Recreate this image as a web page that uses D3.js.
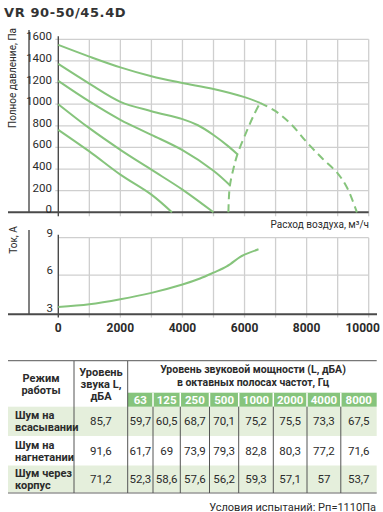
<!DOCTYPE html>
<html><head><meta charset="utf-8">
<script src="https://cdn.jsdelivr.net/npm/d3@7"></script>
<style>
html,body{margin:0;padding:0;background:#fff;}
svg{display:block;}
text{font-family:"Liberation Sans Narrow","Arial Narrow","Roboto",sans-serif;fill:#2b2b2b;}
</style></head>
<body>
<svg id="c" width="383" height="512"></svg>
<script>
// ---------- data ----------
const title = "VR 90-50/45.4D";
const pressureTicks = [0,200,400,600,800,1000,1200,1400,1600];
const currentTicks = [3,6,9];
const flowTicks = [0,2000,4000,6000,8000,10000];
const flowGrid = [0,1000,2000,3000,4000,5000,6000,7000,8000,9000,10000];

const speed1 = [[0,1548],[1000,1440],[2000,1340],[3000,1258],[4000,1196],[5000,1140],[6000,1065],[6500,1012]];
const speed2 = [[0,1372],[1000,1190],[2000,1022],[3000,935],[4000,862],[4500,805],[5000,715],[5500,605],[5770,536]];
const speed3 = [[0,1215],[1000,1025],[2000,855],[3000,717],[4000,575],[5000,385],[5530,250]];
const speed4 = [[0,1000],[1000,778],[2000,578],[3000,394],[4000,210],[5000,0]];
const speed5 = [[0,763],[1000,563],[2000,348],[3000,163],[3660,0]];
const stallLimit = [[5480,0],[5495,130],[5530,250],[5640,400],[5770,536],[6070,750],[6300,900],[6500,1012]];
const maxLimit = [[6500,1012],[7000,935],[7500,815],[8000,650],[8500,500],[9000,360],[9300,230],[9620,0]];
const currentCurve = [[0,3.45],[1000,3.67],[2000,4.07],[3000,4.58],[4000,5.25],[4565,5.73],[5000,6.2],[5425,6.7],[5850,7.45],[6000,7.65],[6450,8.07]];

const freqs = ["63","125","250","500","1000","2000","4000","8000"];
const modes = [["Шум на","всасывании"],["Шум на","нагнетании"],["Шум через","корпус"]];
const totalLevels = ["85,7","91,6","71,2"];
const bandLevels = [
  ["59,7","60,5","68,7","70,1","75,2","75,5","73,3","67,5"],
  ["61,7","69","73,9","79,3","82,8","80,3","77,2","71,6"],
  ["52,3","58,6","57,6","56,2","59,3","57,1","57","53,7"]
];
const note = "Условия испытаний: Рп=1110Па";

// ---------- drawing ----------
const svg = d3.select("#c");
const green = "#86c47c";
const gridC = "#cfcfcf";
const axisC = "#4a4a4a";

const x = d3.scaleLinear().domain([0,10000]).range([58.3,368.7]);
const yP = d3.scaleLinear().domain([0,1600]).range([212.3,39.3]);
const yA = d3.scaleLinear().domain([3,9]).range([312.6,237.7]);

svg.append("text").attr("x",4).attr("y",17)
  .style("font-family","'DejaVu Sans',sans-serif").style("font-weight","bold")
  .style("font-size","13px").style("letter-spacing","0.6px").style("fill","#333")
  .text(title);

// ---- top chart ----
const topG = svg.append("g");
topG.selectAll(".vg").data(flowGrid.slice(1)).join("line")
  .attr("x1",d=>x(d)).attr("x2",d=>x(d)).attr("y1",yP(1600)).attr("y2",yP(0)+4)
  .attr("stroke",gridC).attr("stroke-width",1.3);
topG.selectAll(".hg").data(pressureTicks.slice(1)).join("line")
  .attr("x1",x(0)-3).attr("x2",x(10000)).attr("y1",d=>yP(d)).attr("y2",d=>yP(d))
  .attr("stroke",gridC).attr("stroke-width",1.3);
topG.append("line").attr("x1",29).attr("x2",29).attr("y1",30).attr("y2",yP(0)).attr("stroke",axisC).attr("stroke-width",1.4);
topG.append("line").attr("x1",x(0)).attr("x2",x(0)).attr("y1",yP(1600)-3).attr("y2",yP(0)+4).attr("stroke",axisC).attr("stroke-width",1.4);
topG.append("line").attr("x1",8).attr("x2",x(10000)).attr("y1",yP(0)).attr("y2",yP(0)).attr("stroke",axisC).attr("stroke-width",2);
topG.selectAll(".yl").data(pressureTicks).join("text")
  .attr("x",52).attr("y",d=>yP(d)-3).attr("dy","0.35em").attr("text-anchor","end")
  .style("font-size","11.5px").text(d=>d);
topG.append("text").attr("transform","translate(16,78) rotate(-90)").attr("text-anchor","middle")
  .style("font-family","Roboto,sans-serif").style("font-size","10px").text("Полное давление, Па");
topG.append("text").attr("x",369).attr("y",227.5).attr("text-anchor","end")
  .style("font-family","Roboto,sans-serif").style("font-size","10px").text("Расход воздуха, м³/ч");

const lineP = d3.line().x(d=>x(d[0])).y(d=>yP(d[1])).curve(d3.curveCatmullRom.alpha(0.5));
[speed1,speed2,speed3,speed4,speed5].forEach(s=>{
  topG.append("path").attr("d",lineP(s)).attr("fill","none").attr("stroke",green).attr("stroke-width",2);
});
[stallLimit,maxLimit].forEach(s=>{
  topG.append("path").attr("d",lineP(s)).attr("fill","none").attr("stroke",green)
    .attr("stroke-width",2).attr("stroke-dasharray","8,5");
});

// ---- bottom chart ----
const botG = svg.append("g");
botG.selectAll(".vg").data(flowGrid.slice(1)).join("line")
  .attr("x1",d=>x(d)).attr("x2",d=>x(d)).attr("y1",yA(9)).attr("y2",yA(3)+5)
  .attr("stroke",gridC).attr("stroke-width",1.3);
botG.selectAll(".hg").data([6,9]).join("line")
  .attr("x1",x(0)).attr("x2",x(10000)).attr("y1",d=>yA(d)).attr("y2",d=>yA(d))
  .attr("stroke",gridC).attr("stroke-width",1.3);
botG.append("line").attr("x1",29).attr("x2",29).attr("y1",230).attr("y2",yA(3)+1.7).attr("stroke",axisC).attr("stroke-width",1.4);
botG.append("line").attr("x1",x(0)).attr("x2",x(0)).attr("y1",yA(9)-3).attr("y2",yA(3)+5).attr("stroke",axisC).attr("stroke-width",1.4);
botG.append("line").attr("x1",8).attr("x2",377).attr("y1",yA(3)+1.7).attr("y2",yA(3)+1.7).attr("stroke",axisC).attr("stroke-width",2);
botG.selectAll(".yl").data(currentTicks).join("text")
  .attr("x",53).attr("y",d=>yA(d)-5).attr("dy","0.35em").attr("text-anchor","end")
  .style("font-size","11.5px").text(d=>d);
botG.append("text").attr("transform","translate(17,240) rotate(-90)").attr("text-anchor","middle")
  .style("font-family","Roboto,sans-serif").style("font-size","10px").text("Ток, А");
botG.selectAll(".xl").data(flowTicks).join("text")
  .attr("x",d=>x(d)).attr("dx",d=>d===10000?-6:0).attr("y",331.5).attr("text-anchor","middle")
  .style("font-size","12px").style("font-weight","bold").text(d=>d);
const lineA = d3.line().x(d=>x(d[0])).y(d=>yA(d[1])).curve(d3.curveCatmullRom.alpha(0.5));
botG.append("path").attr("d",lineA(currentCurve)).attr("fill","none").attr("stroke",green).attr("stroke-width",2);

// ---- table ----
const tb = svg.append("g");
const colEdges = [8,74,127.7,153,180.3,209.5,238.7,273.3,307,340.8,376.7];
const rowTop = [406.7,436,465.5];
const rowBot = [436,465.5,493];
const rowBg = ["#e5efdc","#ffffff","#e5efdc"];
modes.forEach((m,i)=>{
  tb.append("rect").attr("x",colEdges[0]).attr("y",rowTop[i]).attr("width",colEdges[10]-colEdges[0])
    .attr("height",rowBot[i]-rowTop[i]).attr("fill",rowBg[i]);
});
tb.append("rect").attr("x",colEdges[2]).attr("y",392.7).attr("width",colEdges[10]-colEdges[2]).attr("height",14).attr("fill",green);
tb.append("line").attr("x1",8).attr("x2",376.7).attr("y1",360.7).attr("y2",360.7).attr("stroke","#777").attr("stroke-width",1.3);
tb.append("line").attr("x1",8).attr("x2",376.7).attr("y1",493).attr("y2",493).attr("stroke","#999").attr("stroke-width",1.3);
[1,2].forEach(k=>{
  tb.append("line").attr("x1",colEdges[k]).attr("x2",colEdges[k]).attr("y1",361).attr("y2",493).attr("stroke","#555").attr("stroke-width",1);
});
d3.range(3,10).forEach(k=>{
  tb.append("line").attr("x1",colEdges[k]).attr("x2",colEdges[k]).attr("y1",392.7).attr("y2",406.7).attr("stroke","#fff").attr("stroke-width",1.5);
  tb.append("line").attr("x1",colEdges[k]).attr("x2",colEdges[k]).attr("y1",406.7).attr("y2",493).attr("stroke","#555").attr("stroke-width",1);
});
tb.append("text").attr("x",41).attr("y",382).attr("text-anchor","middle").style("font-size","11px").style("font-weight","bold").text("Режим");
tb.append("text").attr("x",41).attr("y",394).attr("text-anchor","middle").style("font-size","11px").style("font-weight","bold").text("работы");
["Уровень","звука L,","дБА"].forEach((t,i)=>{
  tb.append("text").attr("x",101).attr("y",376+i*12).attr("text-anchor","middle").style("font-size","11px").style("font-weight","bold").text(t);
});
tb.append("text").attr("x",253).attr("y",373).attr("text-anchor","middle").style("font-size","10.5px").style("font-weight","bold").text("Уровень звуковой мощности (L, дБА)");
tb.append("text").attr("x",253).attr("y",385.5).attr("text-anchor","middle").style("font-size","10.5px").style("font-weight","bold").text("в октавных полосах частот, Гц");
freqs.forEach((f,i)=>{
  tb.append("text").attr("x",(colEdges[i+2]+colEdges[i+3])/2).attr("y",403.5).attr("text-anchor","middle")
    .style("font-size","11.5px").style("font-weight","bold").style("fill","#fff").text(f);
});
modes.forEach((m,i)=>{
  const cy = (rowTop[i]+rowBot[i])/2;
  tb.append("text").attr("x",15).attr("y",cy-2).style("font-size","11px").style("font-weight","bold").text(m[0]);
  tb.append("text").attr("x",15).attr("y",cy+10).style("font-size","11px").style("font-weight","bold").text(m[1]);
  tb.append("text").attr("x",(colEdges[1]+colEdges[2])/2).attr("y",cy+4).attr("text-anchor","middle").style("font-size","11.5px").text(totalLevels[i]);
  bandLevels[i].forEach((v,j)=>{
    tb.append("text").attr("x",(colEdges[j+2]+colEdges[j+3])/2).attr("y",cy+4).attr("text-anchor","middle").style("font-size","11.5px").text(v);
  });
});
tb.append("text").attr("x",376).attr("y",510.5).attr("text-anchor","end").style("font-size","11px").text(note);
</script>
</body></html>
